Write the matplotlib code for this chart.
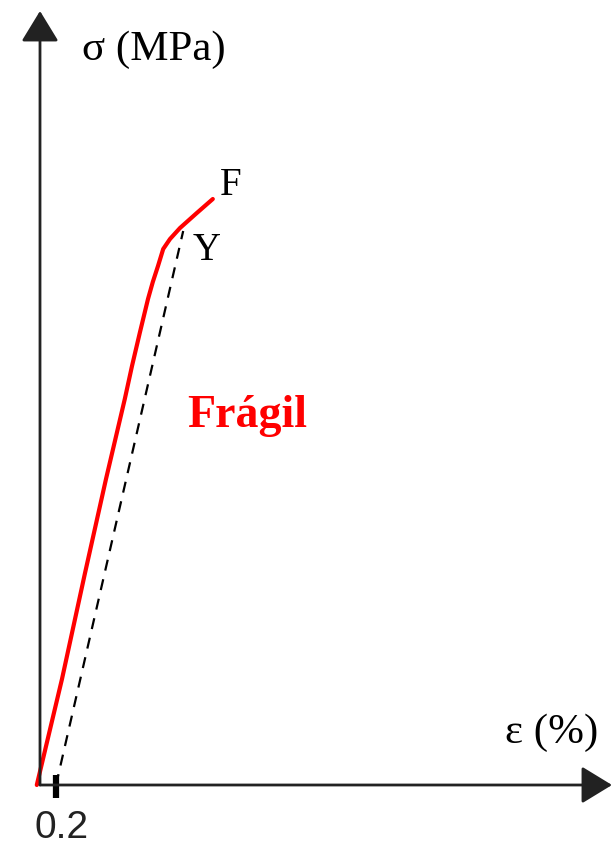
import matplotlib.pyplot as plt

# brittle material: stress-strain curve up to fracture
strain = [-0.04, 0.275, 0.56, 0.825, 1.06, 1.15, 1.25, 1.35, 1.41, 1.475,
          1.54, 1.625, 1.75, 1.96, 2.16]
stress = [0, 106, 211, 306, 386, 419, 453, 486, 503, 519, 536, 546, 557,
          572, 586]

# 0.2 % offset line up to the yield point Y
offset_strain = [0.2, 1.79]
offset_stress = [0, 554]

fig = plt.figure(figsize=(6.15, 8.45), dpi=100)
ax = fig.add_axes([0, 0, 1, 1])
ax.set_xlim(-0.5, 7.1875)
ax.set_ylim(-59, 786)
ax.axis("off")

# axes drawn as arrows
arrow = dict(arrowstyle="-|>,head_length=0.95,head_width=0.58", color="#222222",
             lw=2, mutation_scale=20, shrinkA=0, shrinkB=0)
ax.annotate("", xy=(0, 774), xytext=(0, 0), arrowprops=arrow)
ax.annotate("", xy=(7.15, 0), xytext=(0, 0), arrowprops=arrow)
ax.plot([0.2, 0.2], [-13, 10], color="black", lw=4.5, solid_capstyle="butt")

ax.plot(offset_strain, offset_stress, color="black", lw=1.6, ls=(0, (5, 4)))
ax.plot(strain, stress, color="red", lw=3, solid_capstyle="round",
        solid_joinstyle="round")

serif = ["Liberation Serif", "DejaVu Serif"]
ax.text(0.27, -52, "0.2", fontsize=28, family="Liberation Sans",
        ha="center", va="baseline", color="#222222")
ax.text(0.525, 726, "σ (MPa)", fontsize=31, family=serif, va="baseline")
ax.text(5.81, 43, "ε (%)", fontsize=31, family=serif, va="baseline")
ax.text(2.25, 591, "F", fontsize=28, family=serif, va="baseline")
ax.text(1.91, 526, "Y", fontsize=28, family=serif, va="baseline")
ax.text(1.84, 359, "Frágil", fontsize=33, family=serif, weight="bold",
        color="red", va="baseline")

fig.savefig("out.png", dpi=100)
